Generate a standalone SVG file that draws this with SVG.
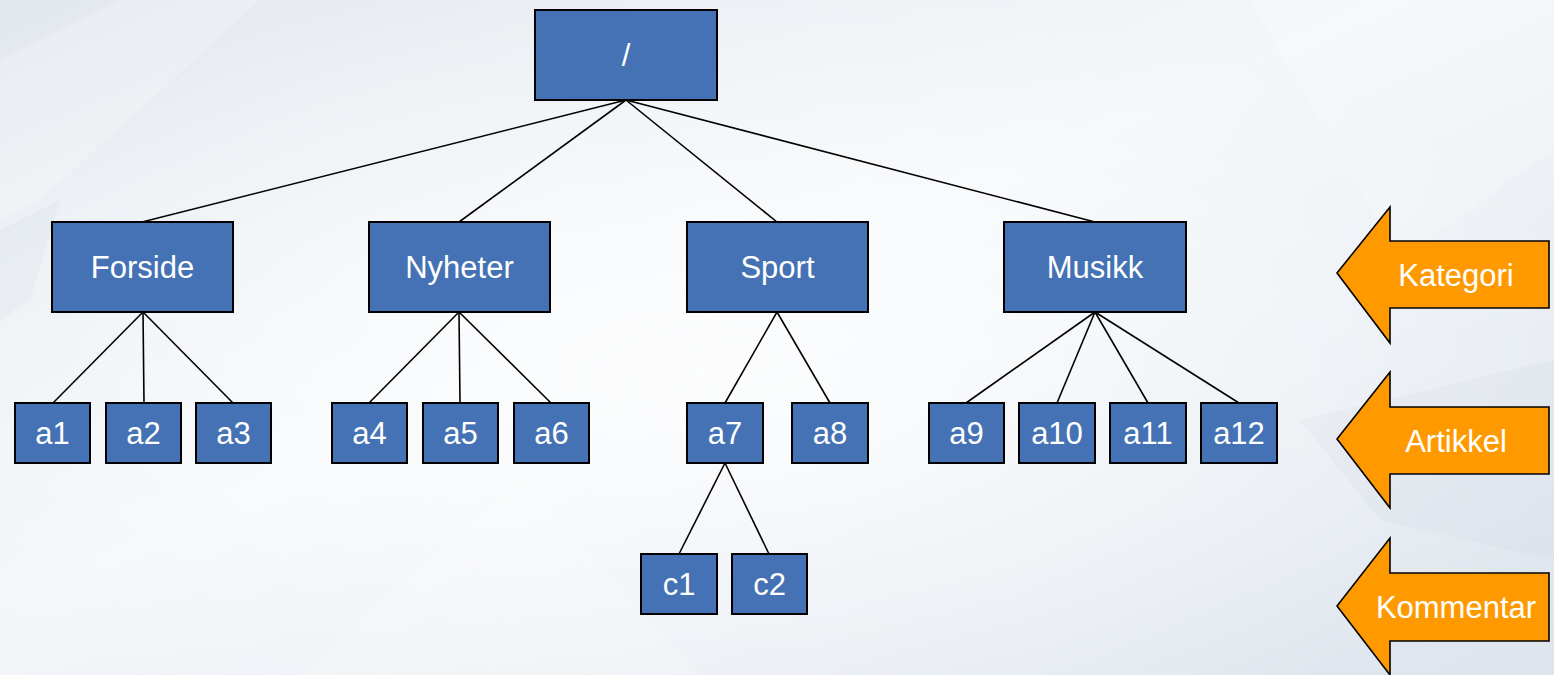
<svg xmlns="http://www.w3.org/2000/svg" width="1554" height="675" viewBox="0 0 1554 675">
<defs>
<linearGradient id="bg" x1="0" y1="0" x2="1" y2="1">
<stop offset="0" stop-color="#e3e8ee"/>
<stop offset="0.45" stop-color="#f4f7fa"/>
<stop offset="1" stop-color="#dde4ec"/>
</linearGradient>
<radialGradient id="glow" cx="0.45" cy="0.55" r="0.6">
<stop offset="0" stop-color="#ffffff" stop-opacity="0.8"/>
<stop offset="1" stop-color="#ffffff" stop-opacity="0"/>
</radialGradient>
</defs>
<style>
.node rect{fill:#4472b4;stroke:#000;stroke-width:2}
.node text,.label text{fill:#fff;font-family:"Liberation Sans",Arial,sans-serif;font-size:31px;text-anchor:middle}
.conn line{stroke:#000;stroke-width:1.6}
.label polygon{fill:#ff9900;stroke:#000;stroke-width:1.6;stroke-linejoin:miter}
</style>
<rect width="1554" height="675" fill="url(#bg)"/>
<rect width="1554" height="675" fill="url(#glow)"/>
<g opacity="0.2" fill="#ffffff">
<polygon points="0,60 120,0 260,0 40,200 0,220"/>
<polygon points="1250,0 1554,0 1554,150 1400,260"/>
<polygon points="300,675 520,480 700,675"/>
</g>
<g opacity="0.15" fill="#c9d3de">
<polygon points="0,230 60,200 30,300 0,320"/>
<polygon points="1300,420 1554,360 1554,560 1380,520"/>
</g>
<g class="conn">
<line x1="626" y1="100" x2="142" y2="222"/>
<line x1="626" y1="100" x2="459" y2="222"/>
<line x1="626" y1="100" x2="777" y2="222"/>
<line x1="626" y1="100" x2="1095" y2="222"/>
<line x1="143" y1="312" x2="53" y2="403"/>
<line x1="143" y1="312" x2="144" y2="403"/>
<line x1="143" y1="312" x2="233" y2="403"/>
<line x1="459" y1="312" x2="369" y2="403"/>
<line x1="459" y1="312" x2="460" y2="403"/>
<line x1="459" y1="312" x2="551" y2="403"/>
<line x1="777" y1="312" x2="725" y2="403"/>
<line x1="777" y1="312" x2="830" y2="403"/>
<line x1="1095" y1="312" x2="966" y2="403"/>
<line x1="1095" y1="312" x2="1057" y2="403"/>
<line x1="1095" y1="312" x2="1148" y2="403"/>
<line x1="1095" y1="312" x2="1239" y2="403"/>
<line x1="725" y1="463" x2="679" y2="554"/>
<line x1="725" y1="463" x2="769" y2="554"/>
</g>
<g id="root" class="node"><rect x="535" y="10" width="182" height="90"/><text x="626" y="66">/</text></g>
<g id="forside" class="node"><rect x="52" y="222" width="181" height="90"/><text x="142.5" y="278">Forside</text></g>
<g id="nyheter" class="node"><rect x="369" y="222" width="181" height="90"/><text x="459.5" y="278">Nyheter</text></g>
<g id="sport" class="node"><rect x="687" y="222" width="181" height="90"/><text x="777.5" y="278">Sport</text></g>
<g id="musikk" class="node"><rect x="1004" y="222" width="182" height="90"/><text x="1095" y="278">Musikk</text></g>
<g id="a1" class="node"><rect x="15" y="403" width="75" height="60"/><text x="52.5" y="444">a1</text></g>
<g id="a2" class="node"><rect x="106" y="403" width="75" height="60"/><text x="143.5" y="444">a2</text></g>
<g id="a3" class="node"><rect x="196" y="403" width="75" height="60"/><text x="233.5" y="444">a3</text></g>
<g id="a4" class="node"><rect x="332" y="403" width="75" height="60"/><text x="369.5" y="444">a4</text></g>
<g id="a5" class="node"><rect x="423" y="403" width="75" height="60"/><text x="460.5" y="444">a5</text></g>
<g id="a6" class="node"><rect x="514" y="403" width="75" height="60"/><text x="551.5" y="444">a6</text></g>
<g id="a7" class="node"><rect x="687" y="403" width="76" height="60"/><text x="725" y="444">a7</text></g>
<g id="a8" class="node"><rect x="792" y="403" width="76" height="60"/><text x="830" y="444">a8</text></g>
<g id="a9" class="node"><rect x="929" y="403" width="75" height="60"/><text x="966.5" y="444">a9</text></g>
<g id="a10" class="node"><rect x="1019" y="403" width="76" height="60"/><text x="1057" y="444">a10</text></g>
<g id="a11" class="node"><rect x="1110" y="403" width="76" height="60"/><text x="1148" y="444">a11</text></g>
<g id="a12" class="node"><rect x="1201" y="403" width="76" height="60"/><text x="1239" y="444">a12</text></g>
<g id="c1" class="node"><rect x="641" y="554" width="76" height="60"/><text x="679" y="595">c1</text></g>
<g id="c2" class="node"><rect x="732" y="554" width="75" height="60"/><text x="769.5" y="595">c2</text></g>
<g id="kategori" class="label"><polygon points="1337,273 1390,207 1390,241 1549,241 1549,308 1390,308 1390,343"/><text x="1456" y="286">Kategori</text></g>
<g id="artikkel" class="label"><polygon points="1337,439 1390,372 1390,407 1549,407 1549,474 1390,474 1390,508"/><text x="1456" y="452">Artikkel</text></g>
<g id="kommentar" class="label"><polygon points="1337,606 1390,538 1390,573 1549,573 1549,641 1390,641 1390,675"/><text x="1456" y="618">Kommentar</text></g>
</svg>
